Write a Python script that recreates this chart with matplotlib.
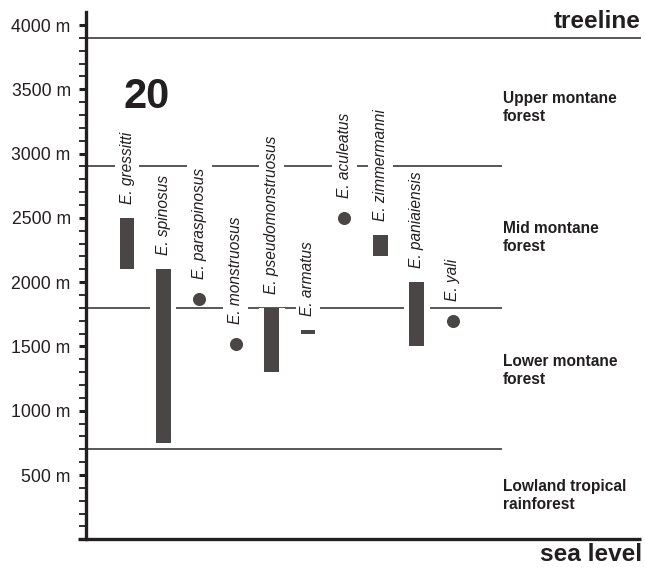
import matplotlib
matplotlib.use("Agg")
import matplotlib.pyplot as plt

plt.rcParams['font.family'] = ['Liberation Sans', 'DejaVu Sans']

# --- data -------------------------------------------------------------
species = ["gressitti", "spinosus", "paraspinosus", "monstruosus",
           "pseudomonstruosus", "armatus", "aculeatus", "zimmermanni",
           "paniaiensis", "yali"]
range_low = [2100, 750, None, None, 1300, 1600, None, 2200, 1500, None]
range_high = [2500, 2100, None, None, 1800, 1630, None, 2370, 2000, None]
point_alt = [None, None, 1870, 1520, None, None, 2500, None, None, 1700]

zone_bounds = [3900, 2900, 1800, 700]
zone_names = ["Upper montane\nforest", "Mid montane\nforest",
              "Lower montane\nforest", "Lowland tropical\nrainforest"]
zone_label_alt = [3360, 2350, 1310, 340]
yticks_major = [500, 1000, 1500, 2000, 2500, 3000, 3500, 4000]
ytick_labels = [f"{v} m" for v in yticks_major]
panel_label = "20"

# --- figure -----------------------------------------------------------
W, H = 645, 567
fig = plt.figure(figsize=(W / 100, H / 100), dpi=100)
ax_left = 86 / W
ax_right = 641 / W
ax_bottom = (H - 539.3) / H
ax_top = (H - 12.2) / H
ax = fig.add_axes([ax_left, ax_bottom, ax_right - ax_left, ax_top - ax_bottom])

x0, x1 = -0.133, 15.2
ax.set_xlim(x0, x1)
ax.set_ylim(0, 4100)

col = '#4a4646'
line_col = '#2b2828'
bar_w = 0.41
halo_w = bar_w + 2 * 5.5 / 36.2

# zone boundary lines
for b in zone_bounds:
    xe = x1 if b == 3900 else 11.36
    ax.plot([x0, xe], [b, b], color=line_col, lw=1.1, zorder=1,
            solid_capstyle='butt')

xs = list(range(1, len(species) + 1))
for x, lo, hi, pt, name in zip(xs, range_low, range_high, point_alt, species):
    if lo is not None:
        ax.bar([x], [hi - lo], bottom=[lo], width=halo_w, color='white',
               edgecolor='none', zorder=2)
        ax.bar([x], [hi - lo], bottom=[lo], width=bar_w, color=col,
               edgecolor='none', zorder=3)
        top = hi
        off = 10
    else:
        ax.plot([x], [pt], 'o', color=col, markersize=9.4,
                markeredgewidth=0, zorder=3)
        top = pt
        off = 14
    ax.annotate(f"E. {name}", xy=(x, top), xytext=(0, off),
                textcoords='offset points', rotation=90, ha='center',
                va='bottom', fontsize=11.2, style='italic', color='#231f20',
                zorder=4,
                bbox=dict(facecolor='white', edgecolor='none', pad=3.5))

# zone names
for alt, nm in zip(zone_label_alt, zone_names):
    ax.text(11.38, alt, nm, ha='left', va='center', fontsize=11.2,
            fontweight='bold', color='#231f20', linespacing=1.25)

# panel label
ax.text(1.55, 3355, panel_label, ha='center', va='baseline', fontsize=30,
        fontweight='bold', color='#231f20')

# spines & ticks
for s in ['top', 'right', 'bottom']:
    ax.spines[s].set_visible(False)
ax.spines['left'].set_linewidth(2.4)
ax.spines['left'].set_color('#231f20')
ax.plot([-0.354, x1], [0, 0], color='#231f20', lw=2.4, clip_on=False,
        zorder=5, solid_capstyle='butt')
ax.set_xticks([])
ax.set_yticks(yticks_major)
ax.set_yticklabels(ytick_labels, fontsize=12.7, color='#231f20')
ax.set_yticks([v for v in range(100, 4001, 100) if v not in yticks_major],
              minor=True)
ax.tick_params(axis='y', which='major', direction='out', length=5,
               width=2.2, pad=6, color='#231f20')
ax.tick_params(axis='y', which='minor', direction='out', length=5,
               width=1.3, color='#231f20')

fig.text(641 / W, (H - 28) / H, "treeline", ha='right', va='baseline',
         fontsize=17.6, fontweight='bold', color='#231f20')
fig.text(642 / W, 6 / H, "sea level", ha='right', va='baseline',
         fontsize=17.6, fontweight='bold', color='#231f20')

fig.savefig("out.png", dpi=100)
